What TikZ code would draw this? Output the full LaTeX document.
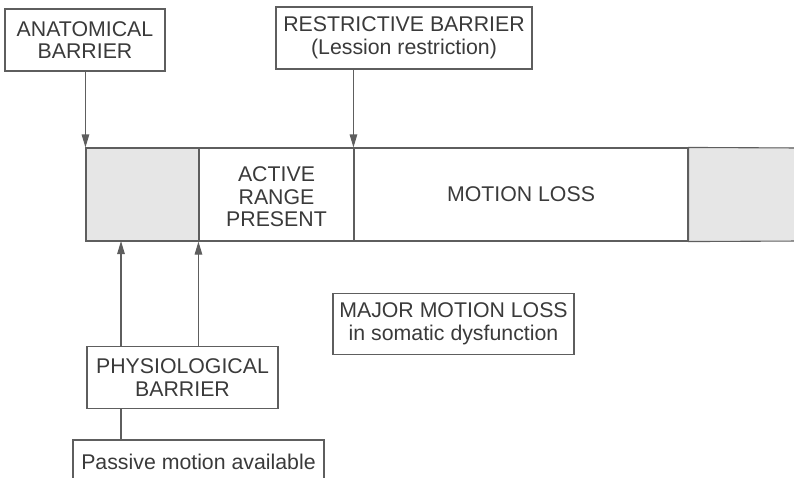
\documentclass[tikz,border=0pt]{standalone}
\usepackage{fontspec}
\setmainfont{Liberation Sans}
\usetikzlibrary{arrows.meta}
\definecolor{inkline}{HTML}{5E5E5E}
\definecolor{inktext}{HTML}{3A3A3A}
\definecolor{barfill}{HTML}{E6E6E6}
\begin{document}
\begin{tikzpicture}[x=1pt,y=-1pt,
  every node/.style={font=\fontsize{21.3}{22.5}\selectfont, text=inktext, align=center},
  labelbox/.style={draw=inkline, line width=1.1pt, inner sep=0pt, minimum height=62pt},
  cell/.style={draw=inkline, line width=1.1pt, inner sep=0pt, minimum height=93pt},
  arr/.style={draw=inkline, line width=1.1pt, -{Triangle[length=13pt,width=7.5pt]}},
  conn/.style={draw=inkline, line width=1.1pt}]
\useasboundingbox (0,0) rectangle (794,477);
\clip (0,0) rectangle (794,477);

% label boxes
\node[labelbox, minimum width=160pt] (anat) at (85,40) {ANATOMICAL\\BARRIER};
\node[labelbox, minimum width=256pt] (restr) at (404,38) {RESTRICTIVE BARRIER\\(Lession restriction)};
\node[labelbox, minimum width=191pt] (phys) at (182.5,377.5) {PHYSIOLOGICAL\\BARRIER};
\node[labelbox, minimum width=241pt, minimum height=61pt] (major) at (453.5,324) {MAJOR MOTION LOSS\\in somatic dysfunction};
\node[labelbox, minimum width=251pt, minimum height=44pt] (passive) at (198.5,462) {Passive motion available};

% range bar
\node[cell, fill=barfill, minimum width=113pt] (shL) at (142.5,194.5) {};
\node[cell, minimum width=155pt] (active) at (276.5,194.5) {};
\node (activetxt) at (276.5,197) {ACTIVE\\RANGE\\PRESENT};
\node[cell, minimum width=334pt] (loss) at (521,194.5) {MOTION LOSS};
\coordinate (shRtop) at (800,148);
\coordinate (shRbot) at (800,241);
\fill[barfill] (loss.north east) rectangle (shRbot);
\draw[conn] (shRtop) -- (loss.north east) -- (loss.south east) -- (shRbot);

% barrier arrows
\draw[arr] (anat.south -| shL.north west) -- (shL.north west);
\draw[arr] (restr.south -| loss.north west) -- (loss.north west);
\coordinate (pa) at (121,241);
\draw[arr] (phys.north -| pa) -- (pa);
\draw[arr] (phys.north -| active.south west) -- (active.south west);
\draw[conn] (phys.south -| pa) -- (passive.north -| pa);
\end{tikzpicture}
\end{document}
